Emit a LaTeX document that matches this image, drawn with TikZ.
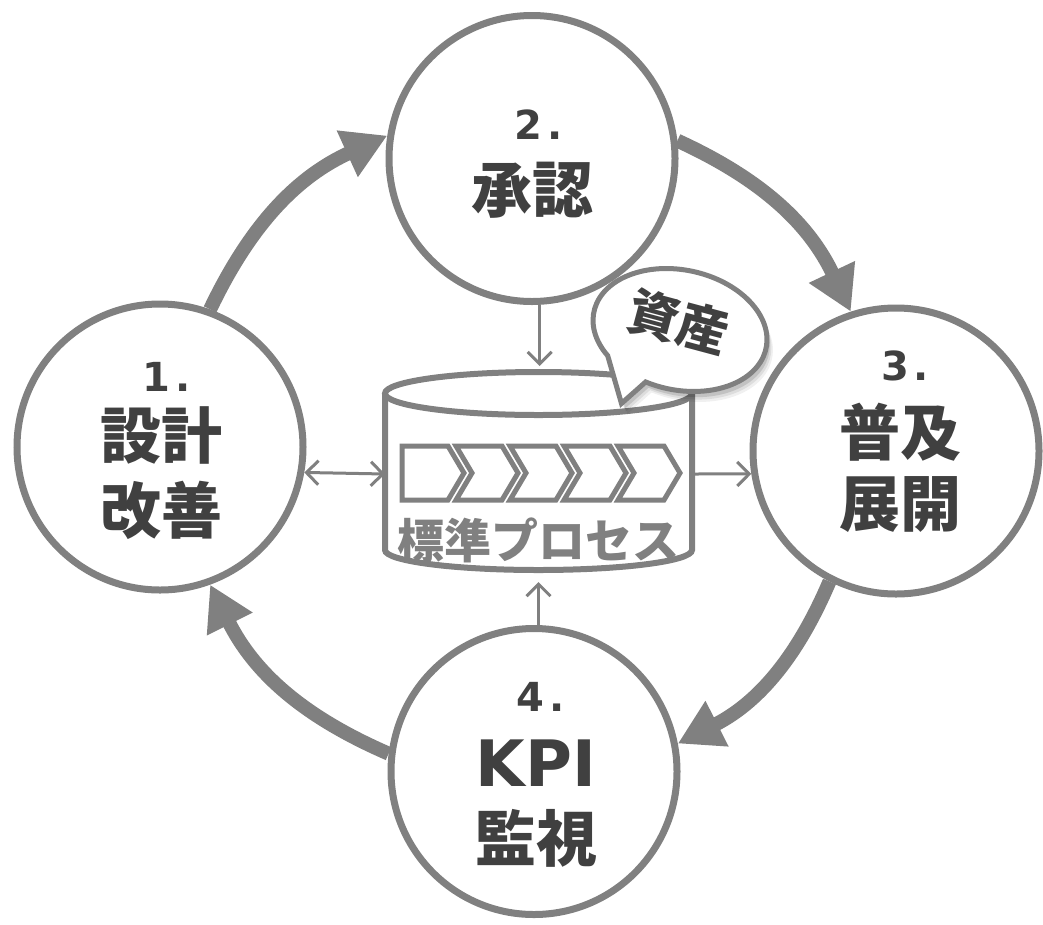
\documentclass[tikz,border=0pt]{standalone}
\usepackage{fontspec}
\newfontfamily\jp{Noto Sans CJK JP}
\newfontfamily\dv{DejaVu Sans}
\usetikzlibrary{arrows.meta}
\definecolor{gry}{HTML}{808080}
\definecolor{ink}{HTML}{404040}
\begin{document}
\begin{tikzpicture}[x=1pt,y=-1pt,
  stage/.style={circle,draw=gry,line width=7pt,fill=white,minimum size=286pt,inner sep=0pt},
  cyc/.style={draw=gry,line width=14pt,-{Triangle[length=44pt,width=48pt]}},
  link/.style={draw=gry,line width=3pt,>={Straight Barb[length=12pt,width=24pt]}},
  num/.style={font=\dv\bfseries\fontsize{40}{40}\selectfont,text=ink,inner sep=0pt},
  lab/.style={font=\jp\bfseries\fontsize{61}{61}\selectfont,text=ink,inner sep=0pt},
  chev/.style={draw=gry,line width=5pt,line join=miter},
]
\fill[white] (0,0) rectangle (1043,924);
\useasboundingbox (0,0) rectangle (1043,924);

% stages
\node[stage] (c1) at (160,447) {};
\node[stage] (c2) at (532,158.5) {};
\node[stage] (c3) at (896,451) {};
\node[stage] (c4) at (534,771.5) {};

% cycle arrows
\draw[cyc] (c1.70) to[bend left=20] (c2.171);
\draw[cyc] (c2.7) to[bend left=20] (c3.108);
\draw[cyc] (c3.243) to[bend left=20] (c4.11);
\draw[cyc] (c4.173) to[bend left=20] (c1.290);

% labels
\node[num] (n1) at (167,377) {1\hspace{5pt}.};
\node[lab] (l1a) at (161,435) {設計};
\node[lab] (l1b) at (161,510) {改善};
\node[num] (n2) at (539,125) {2\hspace{5pt}.};
\node[lab] (l2a) at (532,190) {承認};
\node[num] (n3) at (905,366) {3\hspace{5pt}.};
\node[lab] (l3a) at (900,432) {普及};
\node[lab] (l3b) at (900,505) {展開};
\node[num] (n4) at (541,697) {4\hspace{5pt}.};
\node[font=\dv\bfseries\fontsize{64}{64}\selectfont,text=ink,inner sep=0pt] (l4a) at (536,763) {KPI};
\node[lab] (l4b) at (536,838) {監視};

% database cylinder
\draw[gry,line width=6pt,fill=white] (385,393.5) -- (385,550)
  arc[start angle=180,end angle=0,x radius=153.5,y radius=20] -- (692,393.5);
\draw[gry,line width=6pt] (538.5,393.5) ellipse[x radius=153.5,y radius=21.5];
\node[inner sep=0pt,outer sep=0pt,minimum width=307pt,minimum height=216pt] (db) at (538.5,474) {};

% chevrons
\draw[chev] (402,446) -- (448,446) -- (464,473) -- (448,500) -- (402,500) -- cycle;
\foreach \L in {456,510,564,618}{
  \draw[chev] (\L,446) -- ({\L+46},446) -- ({\L+62},473) -- ({\L+46},500) -- (\L,500) -- ({\L+16},473) -- cycle;
}
\node[font=\jp\bfseries\fontsize{47}{47}\selectfont,text=gry,inner sep=0pt] (std) at (538,540) {標準プロセス};

% links
\draw[link,<->] (c1.-10) -- (db.west);
\draw[link,->] (db.east) -- (c3.189);
\draw[link,->] (c2.-87) -- (c2.-87 |- db.north);
\draw[link,<-] (db.south) -- (db.south |- c4.north);

% speech bubble
\begin{scope}[shift={(680,330)},x=1pt,y=1pt,rotate=-12]
  \foreach \dx/\dy/\op in {8/-9/0.06,6/-7/0.08,4/-5/0.12}{
    \fill[black,opacity=\op,shift={(\dx,\dy)}] ({88*cos(255)},{60*sin(255)}) -- (-42,-84) -- ({88*cos(222)},{60*sin(222)})
      arc[start angle=222,end angle=-105,x radius=88,y radius=60] -- cycle;
  }
  \draw[gry,line width=5pt,fill=white,line join=miter] ({88*cos(255)},{60*sin(255)}) -- (-42,-84) -- ({88*cos(222)},{60*sin(222)})
      arc[start angle=222,end angle=-105,x radius=88,y radius=60] -- cycle;
  \node[font=\jp\bfseries\fontsize{51}{51}\selectfont,text=ink,rotate=-15,inner sep=0pt] (asset) at (-3,8) {資産};
\end{scope}
\end{tikzpicture}
\end{document}
